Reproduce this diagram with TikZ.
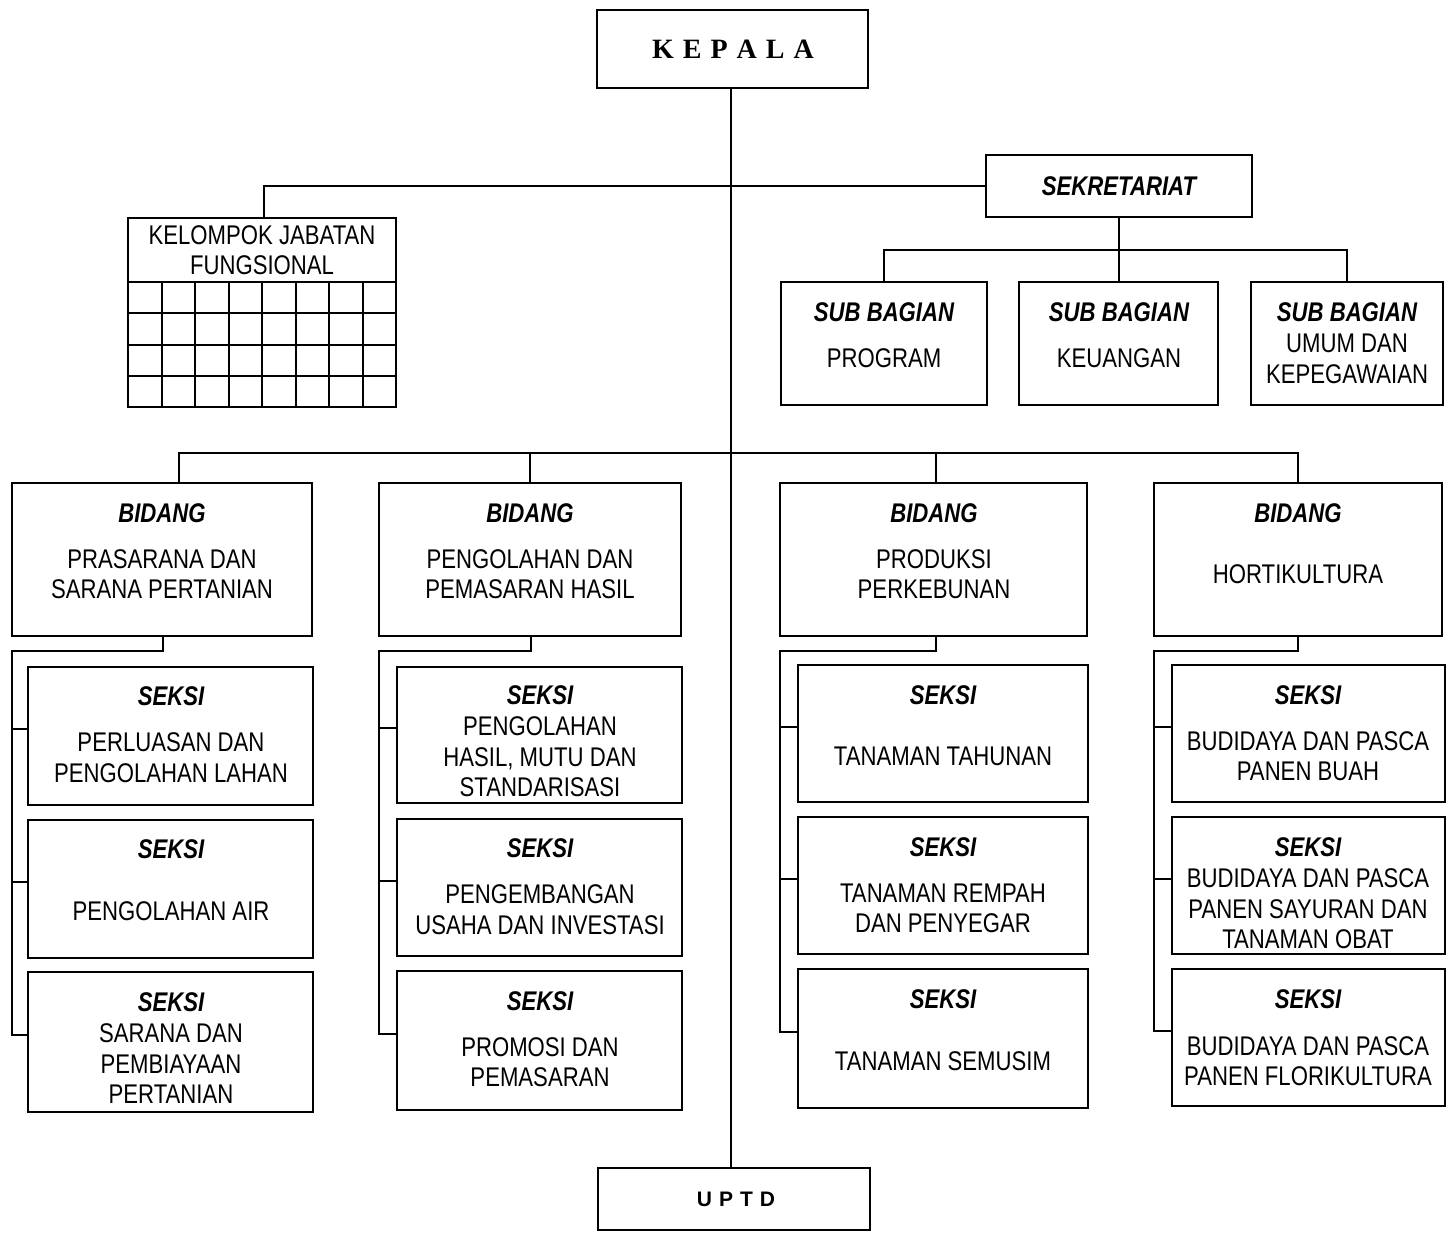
\documentclass[tikz,border=0pt]{standalone}
\usepackage{fontspec}
\setmainfont{Liberation Sans}[FakeStretch=0.82]
\newfontfamily\kepfont{Liberation Serif}
\newfontfamily\uptdfont{Liberation Sans}
\usetikzlibrary{calc}
\newcommand\mybox[5]{\node[box, minimum width={#4pt-#2pt}, minimum height={#5pt-#3pt}] (#1) at ({(#2+#4)/2},{(#3+#5)/2}) {};}
\tikzset{
  box/.style={draw, line width=2.2pt, inner sep=0pt, outer sep=0pt},
  conn/.style={line width=2pt},
  ttl/.style={font=\fontsize{27}{30.5}\selectfont\bfseries\itshape, inner sep=0pt},
  body/.style={font=\fontsize{27}{30.5}\selectfont, align=center, inner sep=0pt},
}
\begin{document}
\begin{tikzpicture}[x=1pt,y=-1pt]
\useasboundingbox (0,0) rectangle (1453,1233);
% boxes
\mybox{kepala}{597}{10}{868}{88}
\mybox{uptd}{598}{1168}{870}{1230}
\mybox{sek}{986}{155}{1252}{217}
\mybox{kjf}{128}{218}{396}{407}
\mybox{sb1}{781}{282}{987}{405}
\mybox{sb2}{1019}{282}{1218}{405}
\mybox{sb3}{1251}{282}{1443}{405}
\mybox{b1}{12}{483}{312}{636}
\mybox{b2}{379}{483}{681}{636}
\mybox{b3}{780}{483}{1087}{636}
\mybox{b4}{1154}{483}{1442}{636}
\mybox{s11}{28}{667}{313}{805}
\mybox{s12}{28}{820}{313}{958}
\mybox{s13}{28}{972}{313}{1112}
\mybox{s21}{397}{667}{682}{803}
\mybox{s22}{397}{819}{682}{956}
\mybox{s23}{397}{971}{682}{1110}
\mybox{s31}{798}{665}{1088}{802}
\mybox{s32}{798}{817}{1088}{954}
\mybox{s33}{798}{969}{1088}{1108}
\mybox{s41}{1172}{665}{1445}{802}
\mybox{s42}{1172}{817}{1445}{954}
\mybox{s43}{1172}{969}{1445}{1106}
% grid in kjf
\foreach \i in {1,...,7} \draw[line width=2pt] ($(kjf.south west)+(\i*33.5,0)$) -- ++(0,-125);
\foreach \j in {0,...,3} \draw[line width=2pt] ($(kjf.south west)+(0,-125+\j*31.25)$) -- ++(268,0);
% texts
\node[font=\kepfont\fontsize{28}{30}\selectfont\bfseries, inner sep=0pt] (tkep) at (733,49) {K\kern9pt E\kern9pt P\kern9pt A\kern9pt L\kern9pt A};
\node[font=\uptdfont\fontsize{21}{24}\selectfont\bfseries, inner sep=0pt] (tuptd) at (736,1199) {U\kern7pt P\kern7pt T\kern7pt D};
\node[ttl] (tsek) at (1119,186) {SEKRETARIAT};
\node[body] (tkjf) at (262,250) {KELOMPOK JABATAN\\FUNGSIONAL};
\node[ttl] (tsb1) at (884,312) {SUB BAGIAN};
\node[body] (bsb1) at (884,358) {PROGRAM};
\node[ttl] (tsb2) at (1119,312) {SUB BAGIAN};
\node[body] (bsb2) at (1119,358) {KEUANGAN};
\node[ttl] (tsb3) at (1347,312) {SUB BAGIAN};
\node[body] (bsb3) at (1347,359) {UMUM DAN\\KEPEGAWAIAN};
\node[ttl] (tb1) at (162,513) {BIDANG};
\node[body] (bb1) at (162,574) {PRASARANA DAN\\SARANA PERTANIAN};
\node[ttl] (tb2) at (530,513) {BIDANG};
\node[body] (bb2) at (530,574) {PENGOLAHAN DAN\\PEMASARAN HASIL};
\node[ttl] (tb3) at (934,513) {BIDANG};
\node[body] (bb3) at (934,574) {PRODUKSI\\PERKEBUNAN};
\node[ttl] (tb4) at (1298,513) {BIDANG};
\node[body] (bb4) at (1298,574) {HORTIKULTURA};
\node[ttl] (ts11) at (171,696) {SEKSI};
\node[body] (bs11) at (171,757.5) {PERLUASAN DAN\\PENGOLAHAN LAHAN};
\node[ttl] (ts12) at (171,849) {SEKSI};
\node[body] (bs12) at (171,911) {PENGOLAHAN AIR};
\node[ttl] (ts13) at (171,1002) {SEKSI};
\node[body] (bs13) at (171,1064) {SARANA DAN\\PEMBIAYAAN\\PERTANIAN};
\node[ttl] (ts21) at (540,695) {SEKSI};
\node[body] (bs21) at (540,757) {PENGOLAHAN\\HASIL, MUTU DAN\\STANDARISASI};
\node[ttl] (ts22) at (540,848) {SEKSI};
\node[body] (bs22) at (540,909.5) {PENGEMBANGAN\\USAHA DAN INVESTASI};
\node[ttl] (ts23) at (540,1001) {SEKSI};
\node[body] (bs23) at (540,1062) {PROMOSI DAN\\PEMASARAN};
\node[ttl] (ts31) at (943,695) {SEKSI};
\node[body] (bs31) at (943,756) {TANAMAN TAHUNAN};
\node[ttl] (ts32) at (943,847) {SEKSI};
\node[body] (bs32) at (943,908.5) {TANAMAN REMPAH\\DAN PENYEGAR};
\node[ttl] (ts33) at (943,999) {SEKSI};
\node[body] (bs33) at (943,1061) {TANAMAN SEMUSIM};
\node[ttl] (ts41) at (1308,695) {SEKSI};
\node[body] (bs41) at (1308,756) {BUDIDAYA DAN PASCA\\PANEN BUAH};
\node[ttl] (ts42) at (1308,847) {SEKSI};
\node[body] (bs42) at (1308,909) {BUDIDAYA DAN PASCA\\PANEN SAYURAN DAN\\TANAMAN OBAT};
\node[ttl] (ts43) at (1308,999) {SEKSI};
\node[body] (bs43) at (1308,1061) {BUDIDAYA DAN PASCA\\PANEN FLORIKULTURA};
% connectors
\coordinate (kspine) at (731,88);
\draw[conn] (kspine) -- (kspine |- uptd.north);
\coordinate (kjftop) at (264,218);
\draw[conn] (sek.west) -| (kjftop);
\coordinate (sekbus) at (sek.south |- 0,250);
\draw[conn] (sek.south) -- (sekbus);
\draw[conn] (sb1.north) |- (sekbus) -| (sb3.north);
\draw[conn] (sb2.north) -- (sb2.north |- sekbus);
\coordinate (bbus) at (731,453);
\coordinate (b1top) at (179,483);
\draw[conn] (b1top) |- (bbus) -| (b4.north);
\draw[conn] (b2.north) -- (b2.north |- bbus);
\coordinate (b3top) at (936,483);
\draw[conn] (b3top) -- (b3top |- bbus);
% seksi connectors
\foreach \b/\sx in {1/163,2/531,3/936,4/1298}{
  \coordinate (bt\b) at (b\b.south -| \sx,0);
  \coordinate (k\b) at ([yshift=-15pt]b\b.south west);
  \foreach \s in {1,2,3}{
    \coordinate (t\b\s) at ([yshift=7pt]s\b\s.west);
  }
  \draw[conn] (bt\b) |- (k\b) |- (t\b3);
  \draw[conn] (k\b |- t\b1) -- (t\b1);
  \draw[conn] (k\b |- t\b2) -- (t\b2);
}
\end{tikzpicture}
\end{document}
